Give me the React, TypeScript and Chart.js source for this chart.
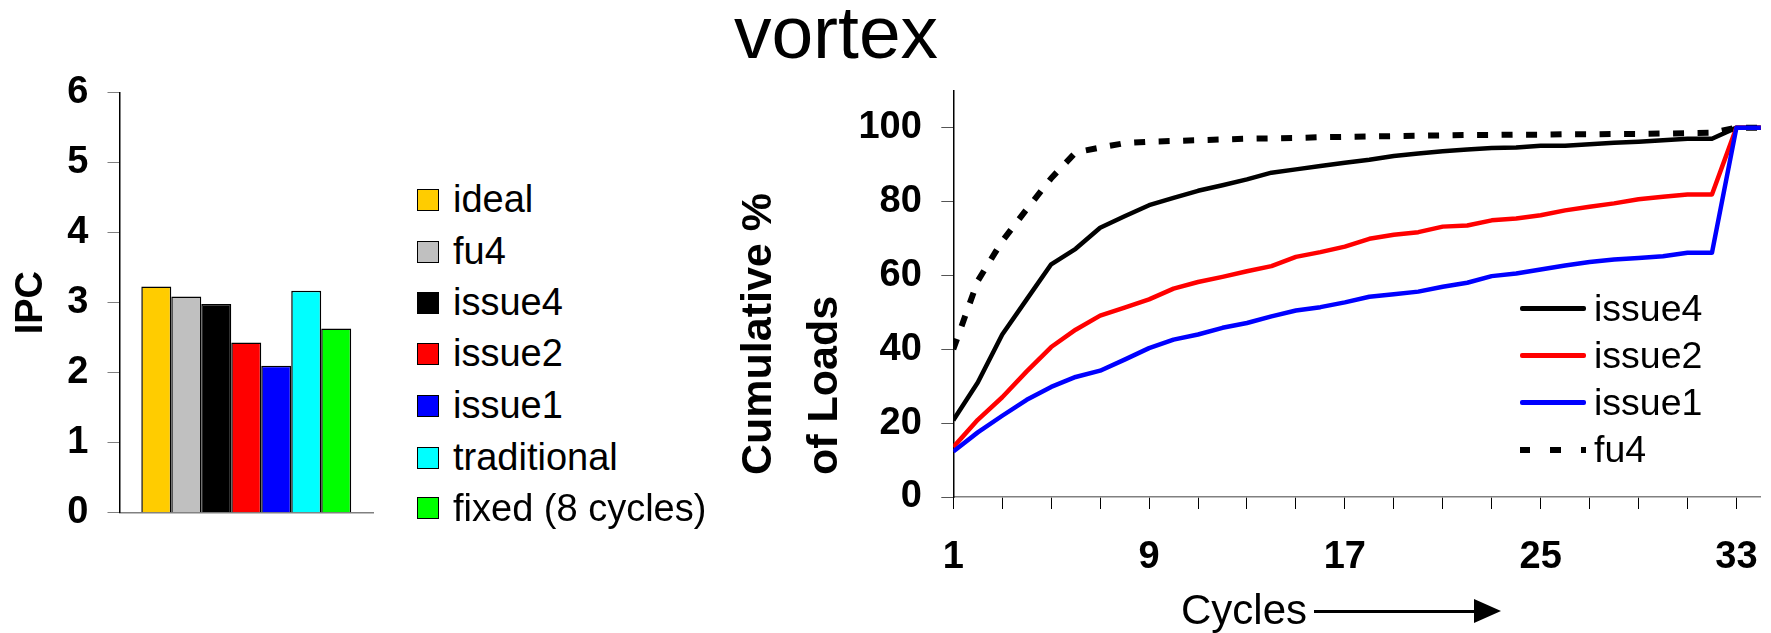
import React, { useEffect, useRef } from 'react';
import { Chart, registerables } from 'chart.js';
Chart.register(...registerables);

const FONT = '"Liberation Sans", Arial, Helvetica, sans-serif';

// ---------- Left chart data (IPC) ----------
const ipcSeries = ['ideal', 'fu4', 'issue4', 'issue2', 'issue1', 'traditional', 'fixed (8 cycles)'];
const ipcValues = [3.23, 3.09, 2.98, 2.43, 2.1, 3.17, 2.63];
const ipcColors = ['#FFCC00', '#C0C0C0', '#000000', '#FF0000', '#0000FF', '#00FFFF', '#00FF00'];
const ipcTicks = [0, 1, 2, 3, 4, 5, 6];

// ---------- Right chart data (cumulative % of loads) ----------
const cycles = [1, 2, 3, 4, 5, 6, 7, 8, 9, 10, 11, 12, 13, 14, 15, 16, 17, 18, 19, 20, 21, 22, 23, 24, 25, 26, 27, 28, 29, 30, 31, 32, 33, 34];
const issue4 = [20.8, 31, 44, 53.5, 63, 67.2, 72.9, 76, 79, 81, 82.9, 84.4, 86, 87.8, 88.7, 89.6, 90.5, 91.3, 92.3, 93, 93.6, 94.1, 94.5, 94.6, 95.1, 95.1, 95.5, 95.9, 96.2, 96.6, 97, 97, 100, 100];
const issue2 = [13.5, 20.9, 27, 34, 40.6, 45.3, 49.1, 51.3, 53.5, 56.4, 58.2, 59.6, 61.1, 62.5, 65, 66.3, 67.8, 69.9, 71, 71.7, 73.2, 73.5, 74.9, 75.4, 76.3, 77.6, 78.6, 79.5, 80.6, 81.3, 81.9, 81.9, 100, 100];
const issue1 = [12.3, 17.5, 22, 26.3, 29.8, 32.5, 34.2, 37.2, 40.3, 42.6, 44, 45.8, 47.1, 48.9, 50.5, 51.4, 52.7, 54.2, 54.9, 55.6, 56.9, 58, 59.8, 60.5, 61.6, 62.7, 63.6, 64.3, 64.7, 65.2, 66.1, 66.1, 100, 100];
const fu4 = [40, 58.5, 69.3, 77.9, 86.3, 93.3, 94.6, 95.8, 96.2, 96.4, 96.6, 96.8, 97, 97.1, 97.2, 97.4, 97.5, 97.6, 97.7, 97.8, 97.9, 98, 98, 98.1, 98.1, 98.2, 98.2, 98.3, 98.3, 98.4, 98.5, 98.6, 100, 100];
const cycleTickValues = [1, 3, 5, 7, 9, 11, 13, 15, 17, 19, 21, 23, 25, 27, 29, 31, 33];
const cycleTickLabels = [1, 9, 17, 25, 33];
const pctTicks = [0, 20, 40, 60, 80, 100];

const lineSeries = [
  { label: 'issue4', data: issue4, color: '#000000', dash: [] as number[], width: 4.5, order: 3 },
  { label: 'issue2', data: issue2, color: '#FF0000', dash: [] as number[], width: 4.5, order: 2 },
  { label: 'issue1', data: issue1, color: '#0000FF', dash: [] as number[], width: 4.5, order: 0 },
  { label: 'fu4', data: fu4, color: '#000000', dash: [11, 13.5], width: 6, order: 1 },
];

const chartTitle = 'vortex';
const yTitleLeft = 'IPC';
const yTitleRightLines = ['Cumulative %', 'of Loads'];
const xTitleRight = 'Cycles';

const tickFont = { family: FONT, size: 38, weight: 'bold' as const };

const yTitlePlugin = {
  id: 'rotatedYTitle',
  afterDraw(chart: any) {
    const ctx = chart.ctx;
    ctx.save();
    ctx.font = `bold 43px ${FONT}`;
    ctx.fillStyle = '#000';
    ctx.textAlign = 'left';
    ctx.textBaseline = 'alphabetic';
    const xs = [71, 137];
    yTitleRightLines.forEach((t, i) => {
      ctx.save();
      ctx.translate(xs[i], 415);
      ctx.rotate(-Math.PI / 2);
      ctx.fillText(t, 0, 0);
      ctx.restore();
    });
    ctx.restore();
  },
};

function BarChart() {
  const ref = useRef<HTMLCanvasElement>(null);
  useEffect(() => {
    const chart = new Chart(ref.current!, {
      type: 'bar',
      data: {
        labels: [''],
        datasets: ipcSeries.map((s, i) => ({
          label: s,
          data: [ipcValues[i]],
          backgroundColor: ipcColors[i],
          borderColor: '#000',
          borderWidth: 1.5,
          categoryPercentage: 0.828,
          barPercentage: 1,
        })),
      },
      options: {
        animation: false,
        responsive: false,
        devicePixelRatio: 1,
        events: [],
        layout: { padding: { left: 0, top: 32.7, right: 27, bottom: 0 } },
        plugins: { legend: { display: false }, tooltip: { enabled: false } },
        scales: {
          x: {
            ticks: { display: false },
            grid: { display: true, drawOnChartArea: false, drawTicks: false },
            border: { color: '#808080', width: 1.5 },
            afterFit(s: any) { s.height = 47.3; s.paddingLeft = 0; s.paddingRight = 0; },
          },
          y: {
            min: 0,
            max: 6,
            afterBuildTicks(s: any) { s.ticks = ipcTicks.map((v) => ({ value: v })); },
            ticks: { font: tickFont, color: '#000', padding: 19 },
            grid: { drawOnChartArea: false, tickLength: 12, color: '#808080' },
            border: { color: '#000', width: 1.5 },
            title: { display: true, text: yTitleLeft, font: tickFont, color: '#000', padding: { top: 9, bottom: 0 } },
            afterFit(s: any) { s.width = 119.5; s.paddingTop = 0; s.paddingBottom = 0; },
          },
        },
      },
    } as any);
    return () => chart.destroy();
  }, []);
  return <canvas ref={ref} width={400} height={500} style={{ position: 'absolute', left: 0, top: 60, width: 400, height: 500 }} />;
}

function LineChart() {
  const ref = useRef<HTMLCanvasElement>(null);
  useEffect(() => {
    const chart = new Chart(ref.current!, {
      type: 'line',
      data: {
        datasets: lineSeries.map((s) => ({
          label: s.label,
          data: cycles.map((c, i) => ({ x: c, y: s.data[i] })),
          borderColor: s.color,
          backgroundColor: s.color,
          borderWidth: s.width,
          borderDash: s.dash,
          borderJoinStyle: 'round',
          pointRadius: 0,
          tension: 0,
          fill: false,
          order: s.order,
        })),
      },
      options: {
        animation: false,
        responsive: false,
        devicePixelRatio: 1,
        events: [],
        layout: { padding: { left: 0, top: 30.7, right: 10.1, bottom: 0 } },
        plugins: { legend: { display: false }, tooltip: { enabled: false } },
        scales: {
          x: {
            type: 'linear',
            min: 1,
            max: 34,
            afterBuildTicks(s: any) { s.ticks = cycleTickValues.map((v) => ({ value: v })); },
            ticks: {
              autoSkip: false,
              maxRotation: 0,
              font: tickFont,
              color: '#000',
              padding: 26,
              callback: (v: any) => (cycleTickLabels.includes(Number(v)) ? String(v) : ''),
            },
            grid: { drawOnChartArea: false, tickLength: 12, color: '#000' },
            border: { color: '#808080', width: 1.5 },
            afterFit(s: any) { s.height = 123; s.paddingLeft = 0; s.paddingRight = 0; },
          },
          y: {
            min: 0,
            max: 110,
            afterBuildTicks(s: any) { s.ticks = pctTicks.map((v) => ({ value: v })); },
            ticks: { font: tickFont, color: '#000', padding: 19.5 },
            grid: { drawOnChartArea: false, tickLength: 12, color: '#555' },
            border: { color: '#000', width: 1.5 },
            afterFit(s: any) { s.width = 253.3; s.paddingTop = 0; s.paddingBottom = 0; },
          },
        },
      },
      plugins: [yTitlePlugin],
    } as any);
    return () => chart.destroy();
  }, []);
  return <canvas ref={ref} width={1071} height={560} style={{ position: 'absolute', left: 700, top: 60, width: 1071, height: 560 }} />;
}

const abs = (o: any) => ({ position: 'absolute' as const, whiteSpace: 'nowrap' as const, ...o });

export default function App() {
  const leftRowCenters = [200, 251.8, 302.5, 353.8, 405.8, 457.8, 508.3];
  const rightRowY = [308.5, 355.5, 402.5, 449.5];
  return (
    <div style={{ position: 'absolute', left: 0, top: 0, width: 1771, height: 633, overflow: 'hidden', background: '#fff', fontFamily: FONT, color: '#000' }}>
      <div style={abs({ left: 836, top: -5, transform: 'translateX(-50%)', fontSize: 75, lineHeight: '75px' })}>{chartTitle}</div>
      <BarChart />
      <LineChart />
      {ipcSeries.map((s, i) => (
        <React.Fragment key={s}>
          <div style={abs({ left: 417, top: leftRowCenters[i] - 11, width: 22, height: 22, boxSizing: 'border-box', border: '1.5px solid #000', background: ipcColors[i] })} />
          <div style={abs({ left: 453, top: leftRowCenters[i] + 12.5 - 32.2, fontSize: 38, lineHeight: '38px' })}>{s}</div>
        </React.Fragment>
      ))}
      {lineSeries.map((s, i) => (
        <React.Fragment key={s.label}>
          {s.dash.length === 0 ? (
            <div style={abs({ left: 1520, top: rightRowY[i] - 2.2, width: 66, height: 4.4, background: s.color, borderRadius: 2 })} />
          ) : (
            <>
              <div style={abs({ left: 1520, top: rightRowY[i] - 3, width: 10, height: 6, background: s.color })} />
              <div style={abs({ left: 1550, top: rightRowY[i] - 3, width: 11, height: 6, background: s.color })} />
              <div style={abs({ left: 1581, top: rightRowY[i] - 3, width: 5, height: 6, background: s.color })} />
            </>
          )}
          <div style={abs({ left: 1594, top: rightRowY[i] + 13.3 - 31.7, fontSize: 37.5, lineHeight: '37.5px' })}>{s.label}</div>
        </React.Fragment>
      ))}
      <div style={abs({ left: 1181, top: 624 - 35.5, fontSize: 42, lineHeight: '42px' })}>{xTitleRight}</div>
      <div style={abs({ left: 1314, top: 609.5, width: 162, height: 3.3, background: '#000' })} />
      <div style={abs({ left: 1474, top: 598.5, width: 0, height: 0, borderLeft: '27px solid #000', borderTop: '12.5px solid transparent', borderBottom: '12.5px solid transparent' })} />
    </div>
  );
}
